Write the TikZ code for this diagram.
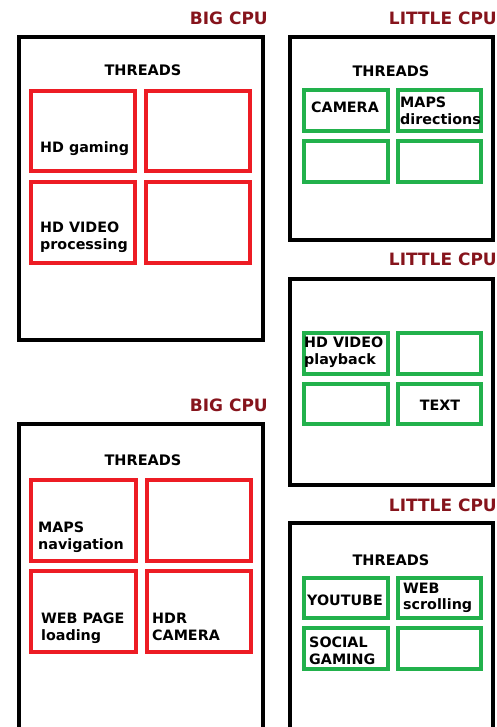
\documentclass[tikz,border=0pt]{standalone}
\usepackage{fontspec}
\setmainfont{DejaVu Sans}
\definecolor{titlered}{HTML}{86141C}
\definecolor{thred}{HTML}{ED1C24}
\definecolor{thgreen}{HTML}{22B14C}
\begin{document}
\begin{tikzpicture}[x=1pt,y=-1pt,
  cpu/.style={draw=black,line width=4pt},
  bigth/.style={draw=thred,line width=3.6pt},
  litth/.style={draw=thgreen,line width=3.6pt},
  title/.style={inner sep=0pt,text=titlered,font=\fontsize{17}{20}\selectfont\bfseries},
  lbl/.style={inner sep=0pt,font=\fontsize{14.3}{16.5}\selectfont\bfseries,align=left,text=black},
  thr/.style={inner sep=0pt,font=\fontsize{14.5}{17}\selectfont\bfseries,text=black}]
\useasboundingbox (0,0) rectangle (497,727);
\clip (0,0) rectangle (497,727);
% ---------- BIG CPU 1 ----------
\node[title,anchor=east] (t1) at (268,18) {BIG CPU};
\draw[cpu] (19,37) rectangle (263,340);
\node[thr] (th1) at (143,70) {THREADS};
\draw[bigth] (31,91) rectangle (135,171);
\draw[bigth] (146,91) rectangle (250,171);
\draw[bigth] (31,182) rectangle (135,263);
\draw[bigth] (146,182) rectangle (250,263);
\node[lbl,anchor=west] (a1) at (40,149) {HD gaming};
\node[lbl,anchor=west] (a2) at (40,237) {HD VIDEO\\processing};
% ---------- LITTLE CPU 1 ----------
\node[title,anchor=east] (t2) at (497,18) {LITTLE CPU};
\draw[cpu] (290,37) rectangle (493,240);
\node[thr] (th2) at (391,71) {THREADS};
\draw[litth] (304,90) rectangle (388,131);
\draw[litth] (398,90) rectangle (481,131);
\draw[litth] (304,141) rectangle (388,182);
\draw[litth] (398,141) rectangle (481,182);
\node[lbl] (b1) at (345,107) {CAMERA};
\node[lbl,anchor=west] (b2) at (400,111) {MAPS\\directions};
% ---------- LITTLE CPU 2 ----------
\node[title,anchor=east] (t3) at (497,259) {LITTLE CPU};
\draw[cpu] (290,279) rectangle (493,485);
\draw[litth] (304,333) rectangle (388,374);
\draw[litth] (398,333) rectangle (481,374);
\draw[litth] (304,384) rectangle (388,424);
\draw[litth] (398,384) rectangle (481,424);
\node[lbl,anchor=west] (c1) at (304,352) {HD VIDEO\\playback};
\node[lbl] (c2) at (440,405) {TEXT};
% ---------- BIG CPU 2 ----------
\node[title,anchor=east] (t4) at (268,405) {BIG CPU};
\draw[cpu] (19,424) rectangle (263,740);
\node[thr] (th4) at (143,460) {THREADS};
\draw[bigth] (31,480) rectangle (136,561);
\draw[bigth] (147,480) rectangle (251,561);
\draw[bigth] (31,571) rectangle (136,652);
\draw[bigth] (147,571) rectangle (251,652);
\node[lbl,anchor=west] (d1) at (38,537) {MAPS\\navigation};
\node[lbl,anchor=west] (d2) at (41,628) {WEB PAGE\\loading};
\node[lbl,anchor=west] (d3) at (152,627) {HDR\\CAMERA};
% ---------- LITTLE CPU 3 ----------
\node[title,anchor=east] (t5) at (497,505) {LITTLE CPU};
\draw[cpu] (290,523) rectangle (493,740);
\node[thr] (th5) at (391,560) {THREADS};
\draw[litth] (304,578) rectangle (388,618);
\draw[litth] (398,578) rectangle (481,618);
\draw[litth] (304,628) rectangle (388,669);
\draw[litth] (398,628) rectangle (481,669);
\node[lbl] (e1) at (345,600) {YOUTUBE};
\node[lbl,anchor=west] (e2) at (403,598) {WEB\\scrolling};
\node[lbl,anchor=west] (e3) at (309,651) {SOCIAL\\GAMING};
\end{tikzpicture}
\end{document}
